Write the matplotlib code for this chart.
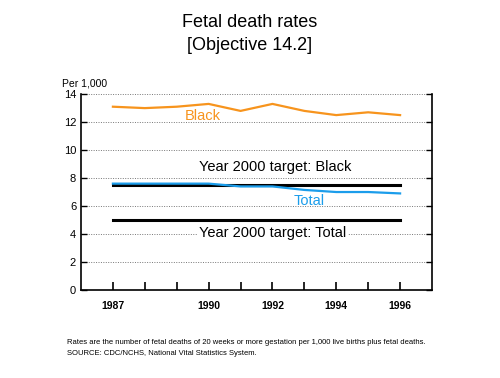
import matplotlib.pyplot as plt
import numpy as np

plt.rcParams['font.family'] = ['Liberation Sans', 'DejaVu Sans']

# Data
years = [1987, 1988, 1989, 1990, 1991, 1992, 1993, 1994, 1995, 1996]
black = [13.1, 13.0, 13.1, 13.3, 12.8, 13.3, 12.8, 12.5, 12.7, 12.5]
total = [7.6, 7.6, 7.6, 7.6, 7.4, 7.4, 7.15, 7.0, 7.0, 6.9]
target_black = 7.5
target_total = 5.0
xtick_labels = {1987: '1987', 1990: '1990', 1992: '1992', 1994: '1994', 1996: '1996'}

orange = '#F7941D'
blue = '#1B9DEB'

fig = plt.figure(figsize=(5, 3.78), dpi=100)
ax = fig.add_axes([0.162, 0.233, 0.702, 0.518])

ax.set_xlim(1986, 1997)
ax.set_ylim(0, 14)
ax.set_yticks(np.arange(0, 15, 2))
ax.yaxis.grid(True, linestyle=(0, (1, 1.5)), color='#777777', linewidth=0.7)
ax.set_axisbelow(True)

ax.plot([years[0], years[-1]], [target_black, target_black], color='black', lw=2.2, zorder=3)
ax.plot([years[0], years[-1]], [target_total, target_total], color='black', lw=2.2, zorder=3)
ax.plot(years, total, color=blue, lw=1.6, zorder=4)
ax.plot(years, black, color=orange, lw=1.6, zorder=4)

ax.text(1989.8, 12.4, 'Black', color=orange, fontsize=10.5, ha='center', va='center')
ax.text(1993.15, 6.35, 'Total', color=blue, fontsize=10.5, ha='center', va='center')
ax.text(1992.1, 8.8, 'Year 2000 target: Black', fontsize=10.5, ha='center', va='center',
        bbox=dict(facecolor='white', edgecolor='none', pad=1))
ax.text(1992.0, 4.1, 'Year 2000 target: Total', fontsize=10.5, ha='center', va='center',
        bbox=dict(facecolor='white', edgecolor='none', pad=1))

ax.set_xticks(years)
ax.set_xticklabels([xtick_labels.get(y, '') for y in years], fontsize=7.5, fontweight='bold')
ax.tick_params(axis='x', direction='in', length=6, width=1.2, pad=8)
ax.tick_params(axis='y', direction='in', length=4, width=1.0, labelsize=8, right=True)
for s in ['left', 'bottom', 'right']:
    ax.spines[s].set_linewidth(1.2)
ax.spines['top'].set_visible(False)

fig.text(0.124, 0.767, 'Per 1,000', fontsize=7.5, ha='left', va='bottom')
fig.text(0.5, 0.94, 'Fetal death rates', fontsize=13, ha='center', va='center')
fig.text(0.5, 0.88, '[Objective 14.2]', fontsize=13, ha='center', va='center')
fig.text(0.134, 0.093, 'Rates are the number of fetal deaths of 20 weeks or more gestation per 1,000 live births plus fetal deaths.',
         fontsize=5.5, ha='left', va='center')
fig.text(0.134, 0.066, 'SOURCE: CDC/NCHS, National Vital Statistics System.', fontsize=5.5, ha='left', va='center')

fig.savefig('out.png', dpi=100)
